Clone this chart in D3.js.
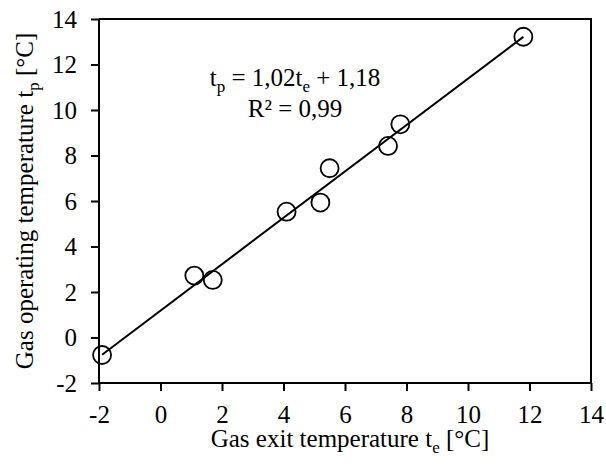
<!DOCTYPE html>
<html>
  <head>
    <meta charset="utf-8">
    <title>Gas temperature</title>
  </head>
  <body style="margin:0; background:#fff">
    <script src="https://cdn.jsdelivr.net/npm/d3@7"></script>
    <script type="text/javascript">
      // measured points: gas exit temperature vs operating temperature
      var teValues = [-1.9, 1.1, 1.7, 4.1, 5.2, 5.5, 7.4, 7.8, 11.8];
      var tpValues = [-0.77, 2.72, 2.53, 5.53, 5.93, 7.44, 8.42, 9.37, 13.22];
      var xTickValues = [-2, 0, 2, 4, 6, 8, 10, 12, 14];
      var yTickValues = [-2, 0, 2, 4, 6, 8, 10, 12, 14];
      var slope = 1.02, intercept = 1.18;

      var font = "Liberation Serif";
      var width = 606, height = 465;
      var margin = {top: 19, right: 15, bottom: 82, left: 99};

      var svg = d3.select("body").append("svg")
                  .attr("width", width)
                  .attr("height", height);

      var x = d3.scaleLinear().domain([-2, 14]).range([margin.left, width - margin.right]);
      var y = d3.scaleLinear().domain([-2, 14]).range([height - margin.bottom, margin.top]);

      // frame on top and right
      svg.append("path")
         .attr("d", "M" + x(-2) + "," + y(14) + "H" + x(14) + "V" + y(-2))
         .attr("fill", "none")
         .attr("stroke", "#000")
         .attr("stroke-width", 2);

      var xAxis = svg.append("g")
         .attr("transform", "translate(0," + y(-2) + ")")
         .call(d3.axisBottom(x).tickValues(xTickValues).tickSize(8).tickPadding(6)
                 .tickFormat(d3.format("d")));
      var yAxis = svg.append("g")
         .attr("transform", "translate(" + x(-2) + ",0)")
         .call(d3.axisLeft(y).tickValues(yTickValues).tickSize(8).tickPadding(6)
                 .tickFormat(d3.format("d")));

      [xAxis, yAxis].forEach(function(a) {
        a.attr("font-family", font).attr("font-size", 25);
        a.selectAll(".domain").attr("stroke-width", 2).attr("d", function() {
          return a === xAxis ? "M" + x(-2) + ",0H" + x(14) : "M0," + y(14) + "V" + y(-2);
        });
        a.selectAll(".tick line").attr("stroke-width", 2);
        a.selectAll("text")
         .style("font-family", font)
         .style("font-size", "25px")
         .attr("fill", "#000")
         .text(function(d) { return d; });
      });
      xAxis.selectAll("text").attr("dy", null).attr("y", 40);
      yAxis.selectAll("text").attr("x", -22);

      // trend line
      var xMin = d3.min(teValues), xMax = d3.max(teValues);
      svg.append("line")
         .attr("x1", x(xMin)).attr("y1", y(slope * xMin + intercept))
         .attr("x2", x(xMax)).attr("y2", y(slope * xMax + intercept))
         .attr("stroke", "#000")
         .attr("stroke-width", 2);

      svg.selectAll("circle.pt")
         .data(teValues)
         .enter()
         .append("circle")
         .attr("class", "pt")
         .attr("cx", function(d) { return x(d); })
         .attr("cy", function(d, i) { return y(tpValues[i]); })
         .attr("r", 9)
         .attr("fill", "none")
         .attr("stroke", "#000")
         .attr("stroke-width", 1.8);

      function label(sel) {
        return sel.style("font-family", font).style("font-size", "25px").attr("fill", "#000");
      }
      function sub(t, s) {
        t.append("tspan").attr("dy", 6).style("font-size", "17px").text(s);
      }

      // equation
      var eq = label(svg.append("text"))
         .attr("x", 295).attr("y", 86)
         .attr("text-anchor", "middle");
      eq.append("tspan").text("t");
      sub(eq, "p");
      eq.append("tspan").attr("dy", -6).text(" = 1,02t");
      sub(eq, "e");
      eq.append("tspan").attr("dy", -6).text(" + 1,18");

      label(svg.append("text"))
         .attr("x", 295).attr("y", 117)
         .attr("text-anchor", "middle")
         .text("R² = 0,99");

      // axis titles
      var xt = label(svg.append("text"))
         .attr("x", 350).attr("y", 447)
         .attr("text-anchor", "middle");
      xt.append("tspan").text("Gas exit temperature t");
      sub(xt, "e");
      xt.append("tspan").attr("dy", -6).text(" [°C]");

      var yt = label(svg.append("text"))
         .attr("transform", "translate(33," + ((y(14) + y(-2)) / 2) + ") rotate(-90)")
         .attr("text-anchor", "middle");
      yt.append("tspan").text("Gas operating temperature t");
      sub(yt, "p");
      yt.append("tspan").attr("dy", -6).text(" [°C]");
    </script>
  </body>
</html>
